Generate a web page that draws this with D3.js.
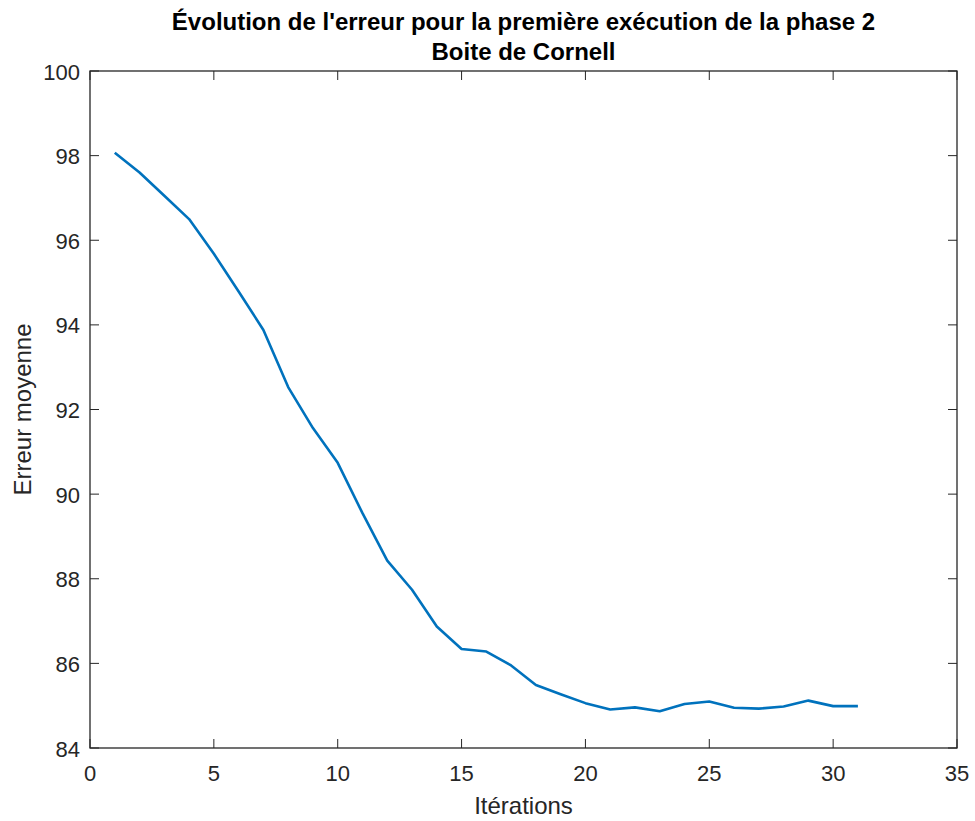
<!DOCTYPE html>
<html><head><meta charset="utf-8">
<script src="https://cdn.jsdelivr.net/npm/d3@7"></script>
<style>body{margin:0;background:#fff}svg{display:block}text{font-family:"Liberation Sans",Arial,sans-serif}</style>
</head><body><svg id="c" width="975" height="821"></svg>
<script>
const iterations = [1,2,3,4,5,6,7,8,9,10,11,12,13,14,15,16,17,18,19,20,21,22,23,24,25,26,27,28,29,30,31];
const errors = [98.07,97.6,97.05,96.5,95.68,94.79,93.88,92.53,91.56,90.74,89.55,88.43,87.74,86.87,86.34,86.28,85.95,85.49,85.27,85.06,84.91,84.96,84.87,85.04,85.10,84.95,84.93,84.98,85.12,84.99,84.99];
const xTicks = [0,5,10,15,20,25,30,35];
const yTicks = [84,86,88,90,92,94,96,98,100];
const titleLines = ["Évolution de l'erreur pour la première exécution de la phase 2","Boite de Cornell"];

const svg = d3.select("#c");
const L=90,R=957,T=71,B=748;
const x = d3.scaleLinear().domain([0,35]).range([L,R]);
const y = d3.scaleLinear().domain([84,100]).range([B,T]);
const ax="#262626", tk=9;
const g = svg.append("g");
xTicks.forEach(v=>{
  g.append("line").attr("x1",x(v)).attr("x2",x(v)).attr("y1",B).attr("y2",B-tk).attr("stroke",ax);
  g.append("line").attr("x1",x(v)).attr("x2",x(v)).attr("y1",T).attr("y2",T+tk).attr("stroke",ax);
  g.append("text").attr("x",x(v)).attr("y",B+33).attr("text-anchor","middle").attr("font-size",22).attr("fill",ax).text(v);
});
yTicks.forEach(v=>{
  g.append("line").attr("x1",L).attr("x2",L+tk).attr("y1",y(v)).attr("y2",y(v)).attr("stroke",ax);
  g.append("line").attr("x1",R).attr("x2",R-tk).attr("y1",y(v)).attr("y2",y(v)).attr("stroke",ax);
  g.append("text").attr("x",L-10).attr("y",y(v)+8.5).attr("text-anchor","end").attr("font-size",22).attr("fill",ax).text(v);
});
g.append("rect").attr("x",L).attr("y",T).attr("width",R-L).attr("height",B-T).attr("fill","none").attr("stroke",ax).attr("stroke-width",1.3);
const line = d3.line().x((d,i)=>x(iterations[i])).y(d=>y(d));
svg.append("path").datum(errors).attr("d",line).attr("fill","none").attr("stroke","#0072BD").attr("stroke-width",2.6).attr("stroke-linejoin","round");
titleLines.forEach((t,i)=>{
  svg.append("text").attr("x",(L+R)/2).attr("y",29.5+i*30).attr("text-anchor","middle").attr("font-size",24).attr("font-weight","bold").attr("fill","#000").text(t);
});
svg.append("text").attr("x",(L+R)/2).attr("y",814).attr("text-anchor","middle").attr("font-size",24).attr("fill",ax).text("Itérations");
svg.append("text").attr("transform",`translate(31,${(T+B)/2}) rotate(-90)`).attr("text-anchor","middle").attr("font-size",24).attr("fill",ax).text("Erreur moyenne");
</script></body></html>
